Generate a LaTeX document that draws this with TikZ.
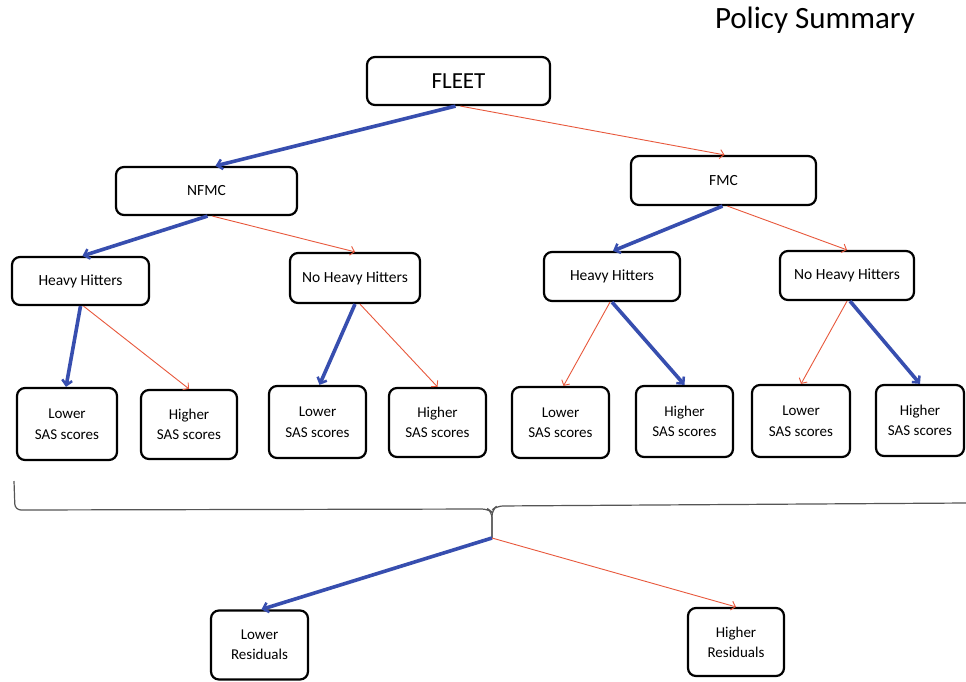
\documentclass[tikz,border=0pt]{standalone}
\usepackage{fontspec}
\setmainfont{Carlito}
\usetikzlibrary{arrows.meta}
\definecolor{blueC}{RGB}{55,78,175}
\definecolor{redC}{RGB}{232,88,60}
\definecolor{braceC}{RGB}{85,85,85}
\tikzset{
  box/.style={draw, line width=2.2pt, rounded corners=8pt, align=center, inner sep=0pt, fill=white},
  topfont/.style={font=\fontsize{23}{26}\selectfont},
  midfont/.style={font=\fontsize{15.5}{20}\selectfont},
  leaffont/.style={font=\fontsize{15}{20.5}\selectfont},
  resfont/.style={font=\fontsize{15}{20}\selectfont},
  bluearr/.style={draw=blueC, line width=3.6pt, -{Straight Barb[length=5pt,width=10pt,line width=2.5pt]}},
  redarr/.style={draw=redC, line width=0.9pt, -{Straight Barb[length=4pt,width=9pt,line width=0.9pt]}},
  bracestyle/.style={draw=braceC, line width=1.2pt, rounded corners=6pt}
}
\begin{document}
\begin{tikzpicture}[x=1pt,y=-1pt]
\useasboundingbox (0,0) rectangle (966,681);
\fill[white] (0,0) rectangle (966,681);

\node[font=\fontsize{31}{34}\selectfont] (title) at (815,20) {Policy Summary};

\node[box,topfont,minimum width=183pt,minimum height=48pt] (fleet) at (458.5,81) {FLEET};
\node[box,midfont,minimum width=181pt,minimum height=48pt] (nfmc) at (206.5,191) {NFMC};
\node[box,midfont,minimum width=185pt,minimum height=49pt] (fmc) at (723.5,180.5) {FMC};

\node[box,midfont,minimum width=137pt,minimum height=48pt] (hhL) at (80.5,281) {Heavy Hitters};
\node[box,midfont,minimum width=130pt,minimum height=50pt] (nhhL) at (355,278) {No Heavy Hitters};
\node[box,midfont,minimum width=136pt,minimum height=49pt] (hhR) at (612,276.5) {Heavy Hitters};
\node[box,midfont,minimum width=134pt,minimum height=49pt] (nhhR) at (847,275.5) {No Heavy Hitters};

\node[box,leaffont,minimum width=100pt,minimum height=72pt] (l1) at (67,424) {Lower\\SAS scores};
\node[box,leaffont,minimum width=96pt,minimum height=69pt] (h1) at (189,424.5) {Higher\\SAS scores};
\node[box,leaffont,minimum width=97pt,minimum height=72pt] (l2) at (317.5,422) {Lower\\SAS scores};
\node[box,leaffont,minimum width=97pt,minimum height=69pt] (h2) at (437.5,422.5) {Higher\\SAS scores};
\node[box,leaffont,minimum width=97pt,minimum height=71pt] (l3) at (560.5,422.5) {Lower\\SAS scores};
\node[box,leaffont,minimum width=97pt,minimum height=71pt] (h3) at (684.5,421.5) {Higher\\SAS scores};
\node[box,leaffont,minimum width=98pt,minimum height=72pt] (l4) at (801,421) {Lower\\SAS scores};
\node[box,leaffont,minimum width=88pt,minimum height=71pt] (h4) at (920,420.5) {Higher\\SAS scores};

\node[box,resfont,minimum width=97pt,minimum height=69pt] (lr) at (259.5,645) {Lower\\Residuals};
\node[box,resfont,minimum width=96pt,minimum height=68pt] (hr) at (736,642) {Higher\\Residuals};

% brace
\coordinate (tip) at (492,538);
\coordinate (braceL) at (14,481);
\coordinate (braceR) at (966,503);
\draw[bracestyle] (braceL) -- (15,510) -- (488,509) -- (492,512) -- (tip);
\draw[bracestyle] (tip) -- (492,510) -- (497,506) -- (braceR);

% connectors
\draw[bluearr] ([xshift=-3pt]fleet.south) -- ([xshift=9pt]nfmc.north);
\draw[redarr] ([xshift=2pt]fleet.south) -- ([xshift=1pt]fmc.north);

\draw[bluearr] ([xshift=1pt]nfmc.south) -- ([xshift=2pt]hhL.north);
\draw[redarr] ([xshift=6pt]nfmc.south) -- (nhhL.north);

\draw[bluearr] ([xshift=-1pt]fmc.south) -- ([xshift=1pt]hhR.north);
\draw[redarr] ([xshift=4pt]fmc.south) -- (nhhR.north);

\draw[bluearr] (hhL.south) -- ([xshift=-1pt]l1.north);
\draw[redarr] ([xshift=3pt]hhL.south) -- (h1.north);
\draw[bluearr] (nhhL.south) -- ([xshift=2pt]l2.north);
\draw[redarr] ([xshift=5pt]nhhL.south) -- (h2.north);
\draw[redarr] ([xshift=-2pt]hhR.south) -- ([xshift=3pt]l3.north);
\draw[bluearr] (hhR.south) -- (h3.north);
\draw[redarr] (nhhR.south) -- (l4.north);
\draw[bluearr] ([xshift=3pt]nhhR.south) -- (h4.north);

\draw[bluearr] (tip) -- ([xshift=2pt]lr.north);
\draw[redarr] (tip) -- (hr.north);
\end{tikzpicture}
\end{document}
